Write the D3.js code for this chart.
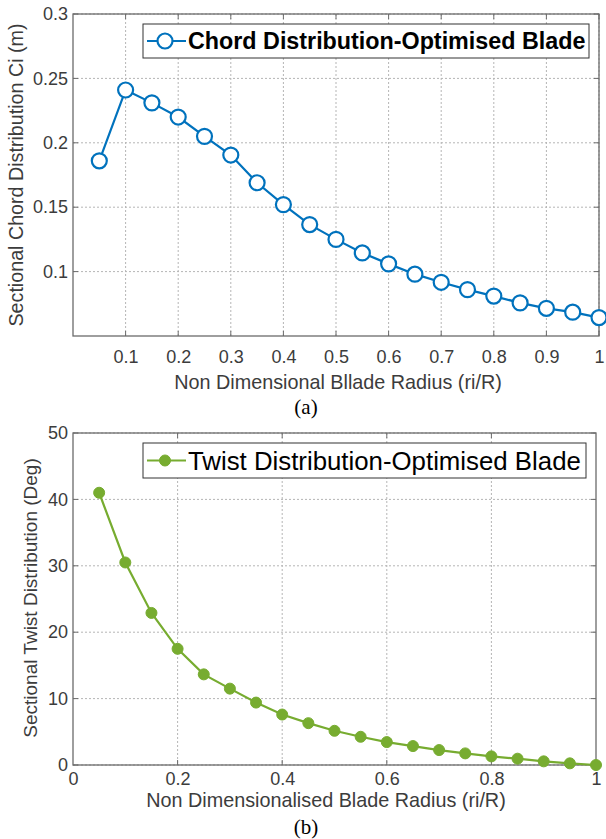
<!DOCTYPE html>
<html><head><meta charset="utf-8">
<script src="https://cdn.jsdelivr.net/npm/d3@7"></script>
<style>
body{margin:0;background:#fff;}
svg{display:block;font-family:"Liberation Sans",Arial,sans-serif;}
</style></head>
<body>
<svg id="c" width="606" height="839"></svg>
<script>
const radius = [0.05,0.1,0.15,0.2,0.25,0.3,0.35,0.4,0.45,0.5,0.55,0.6,0.65,0.7,0.75,0.8,0.85,0.9,0.95,1.0];
const chord = [0.186,0.241,0.231,0.220,0.205,0.1905,0.169,0.152,0.1365,0.125,0.1145,0.106,0.098,0.0917,0.086,0.081,0.0757,0.0715,0.0685,0.0643];
const twist = [41.0,30.5,22.9,17.5,13.65,11.5,9.4,7.6,6.3,5.15,4.25,3.45,2.85,2.25,1.75,1.3,0.95,0.55,0.25,0.0];
const chordXTicks = [0.1,0.2,0.3,0.4,0.5,0.6,0.7,0.8,0.9,1];
const chordYTicks = [0.1,0.15,0.2,0.25,0.3];
const twistXTicks = [0,0.2,0.4,0.6,0.8,1];
const twistYTicks = [0,10,20,30,40,50];
const twistGridX = [0.2,0.4,0.6,0.8];

const svg = d3.select("#c");
const axisCol = "#6b6b6b", tickCol = "#3c3c3c", gridCol = "#b5b5b5";

function panel(o){
  const g = svg.append("g");
  const x = d3.scaleLinear().domain(o.xd).range([o.l,o.r]);
  const y = d3.scaleLinear().domain(o.yd).range([o.b,o.t]);
  g.selectAll(".gx").data(o.gx).enter().append("line")
    .attr("x1",d=>x(d)).attr("x2",d=>x(d)).attr("y1",o.t).attr("y2",o.b)
    .attr("stroke",gridCol).attr("stroke-width",1).attr("stroke-dasharray","2,2");
  g.selectAll(".gy").data(o.gy).enter().append("line")
    .attr("y1",d=>y(d)).attr("y2",d=>y(d)).attr("x1",o.l).attr("x2",o.r)
    .attr("stroke",gridCol).attr("stroke-width",1).attr("stroke-dasharray","2,2");
  const tl = 5;
  const ax = d3.axisBottom(x).tickValues(o.xt).tickSize(0).tickPadding(o.xpad).tickFormat(o.xf);
  const ay = d3.axisLeft(y).tickValues(o.yt).tickSize(0).tickPadding(5).tickFormat(o.yf);
  const gxA = g.append("g").attr("transform",`translate(0,${o.b})`).call(ax);
  const gyA = g.append("g").attr("transform",`translate(${o.l},0)`).call(ay);
  [gxA,gyA].forEach(a=>{
    a.select(".domain").remove();
    a.selectAll("text").attr("fill",tickCol).style("font-size","18px").style("font-family","'Liberation Sans',Arial,sans-serif");
  });
  g.selectAll(".tb").data(o.gx).enter().append("line").attr("x1",d=>x(d)).attr("x2",d=>x(d)).attr("y1",o.b).attr("y2",o.b-tl).attr("stroke",axisCol);
  g.selectAll(".tt").data(o.gx).enter().append("line").attr("x1",d=>x(d)).attr("x2",d=>x(d)).attr("y1",o.t).attr("y2",o.t+tl).attr("stroke",axisCol);
  g.selectAll(".tl").data(o.gy).enter().append("line").attr("y1",d=>y(d)).attr("y2",d=>y(d)).attr("x1",o.l).attr("x2",o.l+tl).attr("stroke",axisCol);
  g.selectAll(".tr").data(o.gy).enter().append("line").attr("y1",d=>y(d)).attr("y2",d=>y(d)).attr("x1",o.r).attr("x2",o.r-tl).attr("stroke",axisCol);
  g.append("rect").attr("x",o.l).attr("y",o.t).attr("width",o.r-o.l).attr("height",o.b-o.t)
    .attr("fill","none").attr("stroke",axisCol).attr("stroke-width",1.3);
  const pts = radius.map((r,i)=>[r,o.vals[i]]);
  g.append("path").datum(pts).attr("fill","none").attr("stroke",o.color).attr("stroke-width",2.2)
    .attr("d",d3.line().x(d=>x(d[0])).y(d=>y(d[1])));
  g.selectAll(".m").data(pts).enter().append("circle")
    .attr("cx",d=>x(d[0])).attr("cy",d=>y(d[1])).attr("r",o.mr)
    .attr("fill",o.filled?o.color:"#fff").attr("stroke",o.color).attr("stroke-width",o.filled?1:2.2);
  g.append("rect").attr("x",o.lg[0]).attr("y",o.lg[1]).attr("width",o.lg[2]).attr("height",o.lg[3])
    .attr("fill","#fff").attr("stroke","#333").attr("stroke-width",1);
  const ly = o.lg[1]+o.lg[3]/2;
  g.append("line").attr("x1",o.lg[0]+4).attr("x2",o.lg[0]+43).attr("y1",ly).attr("y2",ly).attr("stroke",o.color).attr("stroke-width",2.2);
  g.append("circle").attr("cx",o.lg[0]+22).attr("cy",ly).attr("r",o.mr)
    .attr("fill",o.filled?o.color:"#fff").attr("stroke",o.color).attr("stroke-width",o.filled?1:2.2);
  g.append("text").attr("x",o.lg[0]+45).attr("y",ly).attr("dy","0.36em")
    .style("font-size",o.lfs+"px").style("font-weight",o.lfw).attr("fill","#000").text(o.legend);
  g.append("text").attr("x",o.xlx).attr("y",o.xly).attr("text-anchor","middle").attr("fill",tickCol)
    .style("font-size",o.xfs+"px").text(o.xlabel);
  g.append("text").attr("transform",`translate(${o.ylx},${o.yly}) rotate(-90)`).attr("text-anchor","middle").attr("fill",tickCol)
    .style("font-size",o.yfs+"px").text(o.ylabel);
  g.append("text").attr("x",o.capx).attr("y",o.capy).attr("text-anchor","middle").attr("fill","#000")
    .style("font-size","21px").style("font-family","'Liberation Serif','Times New Roman',serif").text(o.cap);
}

panel({l:73,r:599,t:14,b:336,xd:[0,1],yd:[0.05,0.3],
  gx:chordXTicks,gy:chordYTicks,xt:chordXTicks,yt:chordYTicks,xpad:14,
  xf:d=>d===1?"1":d3.format(".1f")(d), yf:d=>d3.format("~g")(d),
  vals:chord,color:"#0072BD",filled:false,mr:7.5,
  lg:[143,24,446,34],lfs:23.3,lfw:"bold",legend:"Chord Distribution-Optimised Blade",
  xlabel:"Non Dimensional Bllade Radius (ri/R)",xlx:338,xly:389,xfs:19.8,
  ylabel:"Sectional Chord Distribution Ci (m)",ylx:23,yly:175,yfs:19.7,
  cap:"(a)",capx:306,capy:414});

panel({l:73,r:596,t:433,b:765,xd:[0,1],yd:[0,50],
  gx:twistGridX,gy:twistYTicks,xt:twistXTicks,yt:twistYTicks,xpad:7,
  xf:d=>d3.format("~g")(d), yf:d=>d3.format("~g")(d),
  vals:twist,color:"#77AC30",filled:true,mr:5.5,
  lg:[143,443,443,35],lfs:25.8,lfw:"normal",legend:"Twist Distribution-Optimised Blade",
  xlabel:"Non Dimensionalised Blade Radius (ri/R)",xlx:326,xly:807,xfs:19.8,
  ylabel:"Sectional Twist Distribution (Deg)",ylx:37,yly:598,yfs:19,
  cap:"(b)",capx:306,capy:834});
</script>
</body></html>
